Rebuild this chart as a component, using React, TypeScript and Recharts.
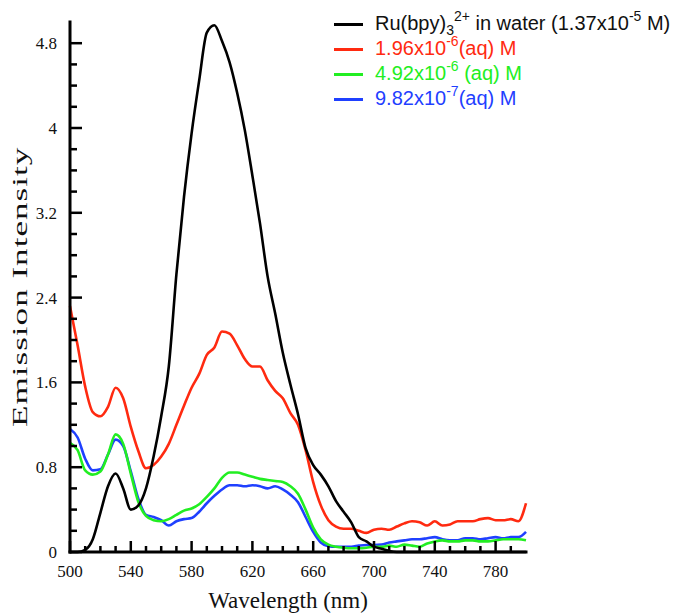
import React from "react";
import { LineChart, Line, XAxis, YAxis, Legend, Label } from "recharts";

// Emission spectra of Ru(bpy)3 2+ in water at several concentrations
const wavelengths = [
  500, 505, 510, 515, 520, 525, 530, 535, 540, 545, 550,
  555, 560, 565, 570, 575, 580, 585, 590, 595, 600,
  605, 610, 615, 620, 625, 630, 635, 640, 645, 650,
  655, 660, 665, 670, 675, 680, 685, 690, 695, 700,
  705, 710, 715, 720, 725, 730, 735, 740, 745, 750,
  755, 760, 765, 770, 775, 780, 785, 790, 795, 800,
];

const water137e5 = [
  0, 0, 0.02, 0.12, 0.37, 0.62, 0.74, 0.6, 0.4, 0.44, 0.6,
  0.9, 1.28, 1.75, 2.62, 3.35, 3.95, 4.45, 4.9, 4.97, 4.82,
  4.62, 4.33, 3.98, 3.55, 3.1, 2.6, 2.25, 1.88, 1.58, 1.3,
  0.98, 0.82, 0.73, 0.62, 0.48, 0.38, 0.28, 0.14, 0.1, 0.05,
  0.03, 0.01, 0, 0, 0, 0, 0, 0, 0, 0,
  0, 0, 0, 0, 0, 0, 0, 0, 0, 0,
];

const aq196e6 = [
  2.32, 1.95, 1.56, 1.32, 1.28, 1.37, 1.55, 1.45, 1.18, 0.95, 0.79,
  0.82, 0.9, 1.02, 1.2, 1.38, 1.55, 1.68, 1.86, 1.93, 2.08,
  2.06, 1.95, 1.82, 1.75, 1.75, 1.62, 1.52, 1.45, 1.31, 1.2,
  0.96, 0.66, 0.44, 0.3, 0.24, 0.22, 0.22, 0.2, 0.18, 0.21,
  0.22, 0.21, 0.24, 0.27, 0.29, 0.28, 0.25, 0.29, 0.25, 0.26,
  0.29, 0.29, 0.29, 0.31, 0.32, 0.3, 0.3, 0.31, 0.29, 0.46,
];

const aq492e6 = [
  1.03, 0.96, 0.77, 0.73, 0.76, 0.92, 1.11, 1.02, 0.74, 0.47, 0.34,
  0.3, 0.29, 0.31, 0.35, 0.39, 0.41, 0.45, 0.52, 0.6, 0.7,
  0.75, 0.75, 0.73, 0.71, 0.69, 0.68, 0.67, 0.66, 0.62, 0.55,
  0.4, 0.23, 0.12, 0.07, 0.05, 0.04, 0.035, 0.035, 0.04, 0.05,
  0.05, 0.06, 0.05, 0.07, 0.06, 0.05, 0.08, 0.1, 0.11, 0.1,
  0.1, 0.11, 0.11, 0.1, 0.1, 0.11, 0.12, 0.12, 0.12, 0.11,
];

const aq982e7 = [
  1.16, 1.08, 0.88, 0.77, 0.78, 0.92, 1.06, 1.0, 0.76, 0.5, 0.35,
  0.33, 0.3, 0.25, 0.29, 0.31, 0.32, 0.38, 0.46, 0.53, 0.59,
  0.63, 0.63, 0.62, 0.63, 0.62, 0.6, 0.62, 0.59, 0.54, 0.47,
  0.33, 0.19, 0.09, 0.055, 0.05, 0.05, 0.05, 0.06, 0.066, 0.066,
  0.07, 0.09, 0.1, 0.11, 0.12, 0.12, 0.13, 0.14, 0.12, 0.11,
  0.11, 0.13, 0.13, 0.12, 0.13, 0.14, 0.13, 0.14, 0.14, 0.19,
];

// Axis ticks: labelled majors plus unlabelled minors
const xMajorTicks = [500, 540, 580, 620, 660, 700, 740, 780];
const xMinorStep = 10;
const xTickEnd = 790;
const yMajorTicks = [0, 0.8, 1.6, 2.4, 3.2, 4, 4.8];
const yMinorStep = 0.2;
const yTickEnd = 4.8;

const xTicks: number[] = [];
for (let v = 500; v <= xTickEnd + 1e-6; v += xMinorStep) xTicks.push(Math.round(v));
const yTicks: number[] = [];
for (let k = 0; k * yMinorStep <= yTickEnd + 1e-6; k++) yTicks.push(Number((k * yMinorStep).toFixed(1)));

const COLORS = {
  black: "#000000",
  red: "#ff2a10",
  green: "#22ee22",
  blue: "#1f40ff",
};

const rows = wavelengths.map((wl, i) => ({
  wl,
  black: water137e5[i],
  red: aq196e6[i],
  green: aq492e6[i],
  blue: aq982e7[i],
}));

const SERIF = "'Liberation Serif', 'Times New Roman', serif";
const SANS = "'Liberation Sans', Arial, sans-serif";

const isMajor = (v: number, list: number[]) => list.some((m) => Math.abs(m - v) < 1e-6);

const XTick = (props: any) => {
  const { x, y, payload } = props;
  const major = isMajor(payload.value, xMajorTicks);
  return (
    <g>
      <line x1={x} y1={y} x2={x} y2={y - (major ? 11 : 6)} stroke="#000" strokeWidth={2.5} />
      {major && (
        <text x={x} y={y + 25} textAnchor="middle" fontFamily={SERIF} fontSize={17} fill="#111">
          {payload.value}
        </text>
      )}
    </g>
  );
};

const YTick = (props: any) => {
  const { x, y, payload } = props;
  const major = isMajor(payload.value, yMajorTicks);
  return (
    <g>
      <line x1={x} y1={y} x2={x + (major ? 12 : 7)} y2={y} stroke="#000" strokeWidth={2.5} />
      {major && (
        <text x={x - 13} y={y + 6} textAnchor="end" fontFamily={SERIF} fontSize={17} fill="#111">
          {String(Number(payload.value.toFixed(1)))}
        </text>
      )}
    </g>
  );
};

const XTitle = (props: any) => {
  const vb = props.viewBox || { x: 70, y: 552, width: 456, height: 62 };
  return (
    <text
      x={vb.x + vb.width / 2 - 10}
      y={vb.y + 56}
      textAnchor="middle"
      fontFamily={SERIF}
      fontSize={23}
      fill="#111"
    >
      Wavelength (nm)
    </text>
  );
};

const YTitle = (props: any) => {
  const vb = props.viewBox || { x: 0, y: 22, width: 70, height: 530 };
  const tx = vb.x + 27;
  const ty = vb.y + vb.height - 125;
  return (
    <text
      transform={`translate(${tx},${ty}) rotate(-90) scale(1.6,1)`}
      x={0}
      y={0}
      textAnchor="start"
      fontFamily={SERIF}
      fontSize={22}
      letterSpacing={0.6}
      fill="#111"
    >
      Emission Intensity
    </text>
  );
};

const supStyle: React.CSSProperties = { fontSize: 14, position: "relative", top: -9 };
const subStyle: React.CSSProperties = { fontSize: 14, position: "relative", top: 5 };

const legendItems = [
  {
    color: COLORS.black,
    text: "#111",
    label: (
      <>
        Ru(bpy)<span style={subStyle}>3</span>
        <span style={supStyle}>2+</span> in water (1.37x10<span style={supStyle}>-5</span> M)
      </>
    ),
  },
  {
    color: COLORS.red,
    text: COLORS.red,
    label: (
      <>
        1.96x10<span style={supStyle}>-6</span>(aq) M
      </>
    ),
  },
  {
    color: COLORS.green,
    text: COLORS.green,
    label: (
      <>
        4.92x10<span style={supStyle}>-6</span> (aq) M
      </>
    ),
  },
  {
    color: COLORS.blue,
    text: COLORS.blue,
    label: (
      <>
        9.82x10<span style={supStyle}>-7</span>(aq) M
      </>
    ),
  },
];

const LegendBox = () => (
  <div style={{ fontFamily: SANS, fontSize: 20 }}>
    {legendItems.map((item, i) => (
      <div key={i} style={{ display: "flex", alignItems: "center", height: 25, whiteSpace: "nowrap" }}>
        <div style={{ width: 29, height: 3, background: item.color, marginRight: 12 }} />
        <span style={{ color: item.text, lineHeight: "25px" }}>{item.label}</span>
      </div>
    ))}
  </div>
);

export default function App() {
  return (
    <div style={{ position: "absolute", left: 0, top: 0, width: 680, height: 614, background: "#fff" }}>
      <LineChart
        width={680}
        height={614}
        data={rows}
        margin={{ top: 22, right: 154, bottom: 0, left: 0 }}
      >
        <XAxis
          dataKey="wl"
          type="number"
          domain={[500, 800]}
          ticks={xTicks}
          interval={0}
          tickSize={0}
          tickMargin={0}
          tickLine={false}
          tick={<XTick />}
          height={62}
          axisLine={{ stroke: "#000", strokeWidth: 3, strokeLinecap: "square" }}
        >
          <Label content={<XTitle />} />
        </XAxis>
        <YAxis
          type="number"
          domain={[0, 5]}
          ticks={yTicks}
          interval={0}
          tickSize={0}
          tickMargin={0}
          tickLine={false}
          tick={<YTick />}
          width={70}
          axisLine={{ stroke: "#000", strokeWidth: 3, strokeLinecap: "square" }}
        >
          <Label content={<YTitle />} />
        </YAxis>
        <Legend
          layout="vertical"
          align="center"
          verticalAlign="middle"
          content={<LegendBox />}
          wrapperStyle={{ position: "absolute", left: 334, top: 11.5, width: 346 }}
        />
        <Line type="monotone" dataKey="red" stroke={COLORS.red} strokeWidth={2.6} dot={false} isAnimationActive={false} />
        <Line type="monotone" dataKey="blue" stroke={COLORS.blue} strokeWidth={2.6} dot={false} isAnimationActive={false} />
        <Line type="monotone" dataKey="green" stroke={COLORS.green} strokeWidth={2.6} dot={false} isAnimationActive={false} />
        <Line type="monotone" dataKey="black" stroke={COLORS.black} strokeWidth={2.6} dot={false} isAnimationActive={false} />
      </LineChart>
    </div>
  );
}
